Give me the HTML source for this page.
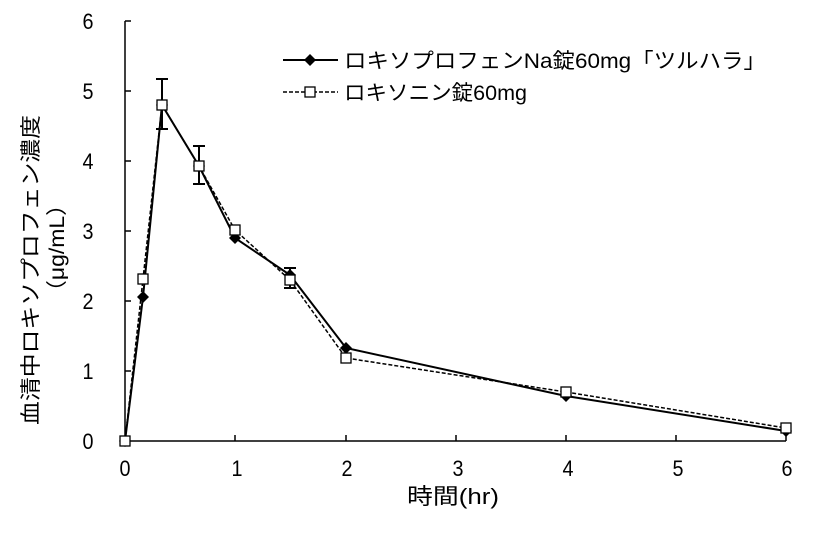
<!DOCTYPE html>
<html><head><meta charset="utf-8"><style>
html,body{margin:0;padding:0;background:#fff}
svg text{font-family:"Liberation Sans","Noto Sans CJK JP",sans-serif;fill:#000}
</style></head><body>
<svg width="825" height="529" viewBox="0 0 825 529" xmlns="http://www.w3.org/2000/svg">
<g stroke="#000" stroke-width="1.5" fill="none">
<line x1="125" y1="21" x2="125" y2="441"/>
<line x1="125" y1="441" x2="786" y2="441"/>
<line x1="125" y1="21" x2="131" y2="21"/><line x1="125" y1="91" x2="131" y2="91"/>
<line x1="125" y1="161" x2="131" y2="161"/><line x1="125" y1="231" x2="131" y2="231"/>
<line x1="125" y1="301" x2="131" y2="301"/><line x1="125" y1="371" x2="131" y2="371"/>
<line x1="235" y1="441" x2="235" y2="435"/><line x1="346" y1="441" x2="346" y2="435"/>
<line x1="456" y1="441" x2="456" y2="435"/><line x1="566" y1="441" x2="566" y2="435"/>
<line x1="676" y1="441" x2="676" y2="435"/><line x1="786" y1="441" x2="786" y2="435"/>
</g>
<g font-size="22" text-anchor="middle" lengthAdjust="spacingAndGlyphs">
<text x="88" y="449" textLength="11" lengthAdjust="spacingAndGlyphs">0</text>
<text x="88" y="379" textLength="11" lengthAdjust="spacingAndGlyphs">1</text>
<text x="88" y="309" textLength="11" lengthAdjust="spacingAndGlyphs">2</text>
<text x="88" y="239" textLength="11" lengthAdjust="spacingAndGlyphs">3</text>
<text x="88" y="169" textLength="11" lengthAdjust="spacingAndGlyphs">4</text>
<text x="88" y="99" textLength="11" lengthAdjust="spacingAndGlyphs">5</text>
<text x="88" y="29" textLength="11" lengthAdjust="spacingAndGlyphs">6</text>
<text x="125" y="476" textLength="11" lengthAdjust="spacingAndGlyphs">0</text>
<text x="237" y="476" textLength="11" lengthAdjust="spacingAndGlyphs">1</text>
<text x="347" y="476" textLength="11" lengthAdjust="spacingAndGlyphs">2</text>
<text x="458" y="476" textLength="11" lengthAdjust="spacingAndGlyphs">3</text>
<text x="568" y="476" textLength="11" lengthAdjust="spacingAndGlyphs">4</text>
<text x="678" y="476" textLength="11" lengthAdjust="spacingAndGlyphs">5</text>
<text x="787" y="476" textLength="11" lengthAdjust="spacingAndGlyphs">6</text>
<text x="453" y="504" textLength="92" lengthAdjust="spacingAndGlyphs">時間(hr)</text>
</g>
<text transform="translate(38,270) rotate(-90)" font-size="21" text-anchor="middle" textLength="310" lengthAdjust="spacingAndGlyphs">血清中ロキソプロフェン濃度</text>
<text transform="translate(64,248) rotate(-90)" font-size="21" text-anchor="middle" textLength="110" lengthAdjust="spacingAndGlyphs">（μg/mL）</text>
<!-- error bars -->
<g stroke="#000" stroke-width="2">
<line x1="162" y1="79" x2="162" y2="129"/><line x1="156" y1="79" x2="168" y2="79"/><line x1="156" y1="129" x2="168" y2="129"/>
<line x1="199" y1="146" x2="199" y2="184"/><line x1="193" y1="146" x2="205" y2="146"/><line x1="193" y1="184" x2="205" y2="184"/>
<line x1="290" y1="268" x2="290" y2="288"/><line x1="284" y1="268" x2="296" y2="268"/><line x1="284" y1="288" x2="296" y2="288"/>
</g>
<polyline fill="none" stroke="#000" stroke-width="2" points="125,441 143,297 162,105 199,166 235,238 290,275 346,348 566,396 786,431"/>
<polyline fill="none" stroke="#000" stroke-width="1.5" stroke-dasharray="4,2" points="125,441 143,279 162,105 199,166 235,230 290,280 346,358 566,392 786,428"/>
<g fill="#000">
<path d="M143,291 l6,6 -6,6 -6,-6z"/><path d="M162,99 l6,6 -6,6 -6,-6z"/><path d="M199,160 l6,6 -6,6 -6,-6z"/>
<path d="M235,232 l6,6 -6,6 -6,-6z"/><path d="M290,269 l6,6 -6,6 -6,-6z"/><path d="M346,342 l6,6 -6,6 -6,-6z"/>
<path d="M566,390 l6,6 -6,6 -6,-6z"/><path d="M786,425 l6,6 -6,6 -6,-6z"/><path d="M125,435 l6,6 -6,6 -6,-6z"/>
</g>
<g fill="#fff" stroke="#000" stroke-width="1.3">
<rect x="120" y="436" width="10" height="10"/><rect x="138" y="274" width="10" height="10"/>
<rect x="157" y="100" width="10" height="10"/><rect x="194" y="161" width="10" height="10"/>
<rect x="230" y="225" width="10" height="10"/><rect x="285" y="275" width="10" height="10"/>
<rect x="341" y="353" width="10" height="10"/><rect x="561" y="387" width="10" height="10"/>
<rect x="781" y="423" width="10" height="10"/>
</g>
<line x1="283" y1="60" x2="338" y2="60" stroke="#000" stroke-width="2"/>
<path d="M310,54 l6,6 -6,6 -6,-6z" fill="#000"/>
<text x="344" y="68" font-size="21" textLength="422" lengthAdjust="spacingAndGlyphs">ロキソプロフェンNa錠60mg「ツルハラ」</text>
<line x1="283" y1="92" x2="338" y2="92" stroke="#000" stroke-width="1.5" stroke-dasharray="4,2"/>
<rect x="305" y="87" width="10" height="10" fill="#fff" stroke="#000" stroke-width="1.3"/>
<text x="344" y="100" font-size="21" textLength="183" lengthAdjust="spacingAndGlyphs">ロキソニン錠60mg</text>
</svg>
</body></html>
